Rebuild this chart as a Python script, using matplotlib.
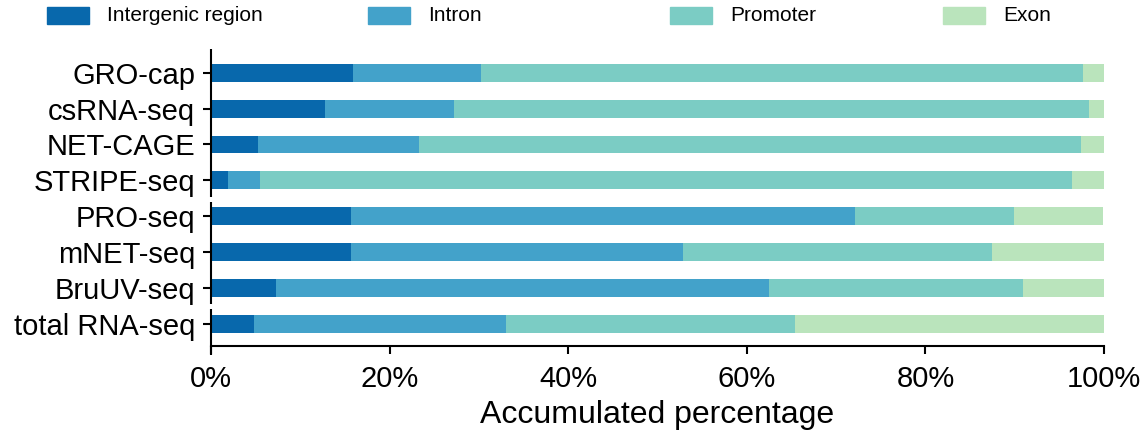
import numpy as np
import matplotlib
matplotlib.use('Agg')
import matplotlib.pyplot as plt
from matplotlib.patches import Rectangle

plt.rcParams['font.family'] = ['Liberation Sans', 'DejaVu Sans']

methods = ['GRO-cap', 'csRNA-seq', 'NET-CAGE', 'STRIPE-seq',
           'PRO-seq', 'mNET-seq', 'BruUV-seq', 'total RNA-seq']
regions = ['Intergenic region', 'Intron', 'Promoter', 'Exon']
colors = ['#0868ac', '#43a2ca', '#7bccc4', '#bae4bc']

# percentages per region
intergenic = [15.9, 12.8, 5.3, 1.9, 15.7, 15.7, 7.3, 4.8]
intron = [14.3, 14.4, 18.0, 3.6, 56.4, 37.2, 55.2, 28.2]
promoter = [67.4, 71.1, 74.1, 90.9, 17.8, 34.6, 28.4, 32.4]
exon = [2.4, 1.7, 2.6, 3.6, 10.0, 12.5, 9.1, 34.6]

fig = plt.figure(figsize=(11.48, 4.38), dpi=100)
ax = fig.add_axes([211/1148, 92.5/438, 893/1148, 296.5/438])

y = np.arange(len(methods))
left = np.zeros(len(methods))
for vals, c in zip([intergenic, intron, promoter, exon], colors):
    ax.barh(y, vals, left=left, height=0.5, color=c)
    left += np.array(vals)

ax.set_xlim(0, 100)
ax.set_ylim(7.6, -0.66)
ax.set_yticks(y)
ax.set_yticklabels(methods, fontsize=21)
ax.set_xticks([0, 20, 40, 60, 80, 100])
ax.set_xticklabels(['0%', '20%', '40%', '60%', '80%', '100%'], fontsize=21)
ax.set_xlabel('Accumulated percentage', fontsize=23, labelpad=5)
ax.tick_params(width=1.5, length=6)
ax.tick_params(axis='y', pad=5.5)
ax.tick_params(axis='x', pad=8)

for s in ['top', 'right', 'left']:
    ax.spines[s].set_visible(False)
ax.spines['bottom'].set_linewidth(1.5)

# broken left axis, three groups
for top, bottom in [(-0.66, 3.45), (3.6, 6.45), (6.58, 7.87)]:
    ax.plot([0, 0], [top, bottom], color='black', lw=1.5, clip_on=False,
            solid_capstyle='butt')

# legend along the top
patch_x = [47, 368, 670, 943]
for name, c, px in zip(regions, colors, patch_x):
    fig.add_artist(Rectangle((px/1148, (438-24)/438), 42/1148, 17/438,
                             transform=fig.transFigure, color=c))
    fig.text((px + 60)/1148, (438-15.5)/438, name, fontsize=15, va='center')

fig.savefig('out.png', dpi=100)
